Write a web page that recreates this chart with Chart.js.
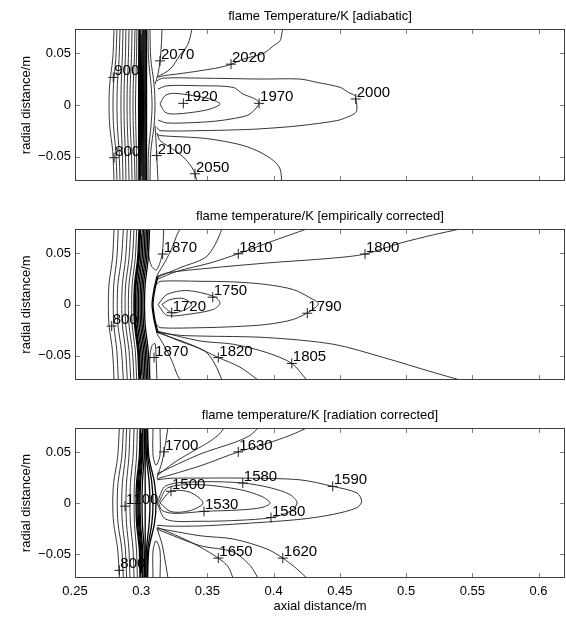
<!DOCTYPE html>
<html>
<head>
<meta charset="utf-8">
<title>flame temperature contours</title>
<script src="https://cdn.jsdelivr.net/npm/chart.js@4/dist/chart.umd.min.js"></script>
<style>
  html, body { margin: 0; padding: 0; background: #fff; }
  #wrap { position: relative; width: 566px; height: 617px; overflow: hidden; }
  canvas { position: absolute; left: 0; }
</style>
</head>
<body>
<div id="wrap">
  <canvas id="p1" width="566" height="200" style="top:0"></canvas>
  <canvas id="p2" width="566" height="200" style="top:200px"></canvas>
  <canvas id="p3" width="566" height="217" style="top:400px"></canvas>
</div>
<script>
// axes
const xTicks = [0.25, 0.3, 0.35, 0.4, 0.45, 0.5, 0.55, 0.6];
const xTickLabels = ['0.25', '0.3', '0.35', '0.4', '0.45', '0.5', '0.55', '0.6'];
const yTicks = [-0.05, 0, 0.05];
const yTickLabels = ['\u22120.05', '0', '0.05'];

const titles = [
  'flame Temperature/K [adiabatic]',
  'flame temperature/K [empirically corrected]',
  'flame temperature/K [radiation corrected]'
];

// --- panel 1: adiabatic ---  each line is a list of [axial, radial] points
const p1Band = [
  [[.2983,.0735],[.2980,0],[.2983,-.0735]],
  [[.2987,.0735],[.2984,0],[.2987,-.0735]],
  [[.2991,.0735],[.2987,0],[.2991,-.0735]],
  [[.2998,.0735],[.2994,0],[.2998,-.0735]],
  [[.3006,.0735],[.3002,0],[.3006,-.0735]],
  [[.3014,.0735],[.3010,0],[.3014,-.0735]],
  [[.3021,.0735],[.3018,0],[.3021,-.0735]],
  [[.3029,.0735],[.3027,0],[.3029,-.0735]],
  [[.3036,.0735],[.3035,0],[.3036,-.0735]],
  [[.3040,.0735],[.3040,0],[.3040,-.0735]]
];
const p1Lines = [
  [[.2795,.0735],[.2785,.045],[.2762,.02],[.2757,0],[.2762,-.02],[.2785,-.045],[.2795,-.0735]],
  [[.2817,.0735],[.2808,.045],[.2791,.02],[.2787,0],[.2791,-.02],[.2808,-.045],[.2817,-.0735]],
  [[.2840,.0735],[.2833,.045],[.2820,.02],[.2817,0],[.2820,-.02],[.2833,-.045],[.2840,-.0735]],
  [[.2863,.0735],[.2857,.045],[.2849,.02],[.2847,0],[.2849,-.02],[.2857,-.045],[.2863,-.0735]],
  [[.2885,.0735],[.2880,.045],[.2872,.02],[.2870,0],[.2872,-.02],[.2880,-.045],[.2885,-.0735]],
  [[.2908,.0735],[.2903,.045],[.2895,.02],[.2893,0],[.2895,-.02],[.2903,-.045],[.2908,-.0735]],
  [[.2931,.0735],[.2926,.045],[.2917,.02],[.2915,0],[.2917,-.02],[.2926,-.045],[.2931,-.0735]],
  [[.2953,.0735],[.2948,.045],[.2940,.02],[.2938,0],[.2940,-.02],[.2948,-.045],[.2953,-.0735]],
  [[.2968,.0735],[.2964,.045],[.2959,.02],[.2957,0],[.2959,-.02],[.2964,-.045],[.2968,-.0735]],
  [[.3051,.0735],[.3055,.045],[.3074,.02],[.3082,0],[.3074,-.02],[.3055,-.045],[.3051,-.0735]],
  [[.3066,.0735],[.3072,.045],[.3097,.02],[.3104,0],[.3097,-.02],[.3072,-.045],[.3066,-.0735]],
  [[.3104,.02],[.3127,.03],[.3142,.0427],[.3152,.058],[.3157,.0735]],
  [[.3119,.027],[.3218,.0347],[.3293,.0482],[.3353,.0588],[.3384,.0735]],
  [[.3104,-.02],[.3112,-.035],[.3117,-.0489],[.3127,-.0735]],
  [[.3119,-.027],[.3142,-.0344],[.3218,-.0408],[.3318,-.0504],[.3381,-.0600],[.3406,-.0665],[.3419,-.0735]],
  [[.3129,.0267],[.3167,.0283],[.3268,.0299],[.3444,.0331],[.3595,.0364],[.3681,.0395],[.3771,.0444],[.3922,.0499],[.3998,.0572],[.4048,.0620],[.4061,.0685],[.4069,.0735]],
  [[.3117,-.028],[.3142,-.0296],[.3444,-.0318],[.3595,-.0344],[.3771,-.0392],[.3897,-.0456],[.3998,-.0537],[.4048,-.0617],[.4061,-.0735]],
  [[.3117,.0234],[.3167,.0260],[.3444,.0260],[.3897,.0251],[.4199,.0251],[.4326,.0219],[.4502,.0171],[.4564,.0122],[.4615,.0090],[.4620,.0058],[.4628,.0010],[.4622,-.0070],[.4552,-.0119],[.4477,-.0151],[.4199,-.0200],[.3897,-.0231],[.3696,-.0241],[.3444,-.0248],[.3142,-.0248],[.3117,-.0215]],
  [[.3127,.0154],[.3195,.0186],[.3444,.0186],[.3693,.0171],[.3769,.0106],[.3860,.0058],[.3890,.0016],[.3822,-.0087],[.3746,-.0119],[.3595,-.0151],[.3444,-.0167],[.3195,-.0174],[.3127,-.0145]],
  [[.3142,.001],[.3180,.009],[.3242,.0113],[.3393,.0090],[.3520,.0058],[.3595,.001],[.3520,-.0039],[.3393,-.0070],[.3242,-.0087],[.3180,-.0070],[.3142,.001]]
];
const p1Labels = [
  [.3142, .0427, '2070'], [.3678, .0395, '2020'], [.2789, .0267, '900'],
  [.3318, .0016, '1920'], [.3890, .0016, '1970'], [.4620, .0058, '2000'],
  [.2795, -.0510, '800'], [.3117, -.0489, '2100'], [.3406, -.0665, '2050']
];

// --- panel 2: empirically corrected ---
const p2Band = [
  [[.2983,.0735],[.2973,.045],[.2950,.02],[.2945,0],[.2950,-.02],[.2973,-.045],[.2983,-.0735]],
  [[.2989,.0735],[.2979,.045],[.2956,.02],[.2951,0],[.2956,-.02],[.2979,-.045],[.2989,-.0735]],
  [[.2995,.0735],[.2985,.045],[.2962,.02],[.2957,0],[.2962,-.02],[.2985,-.045],[.2995,-.0735]],
  [[.3006,.0735],[.2996,.045],[.2973,.02],[.2968,0],[.2973,-.02],[.2996,-.045],[.3006,-.0735]],
  [[.3017,.0735],[.3007,.045],[.2984,.02],[.2979,0],[.2984,-.02],[.3007,-.045],[.3017,-.0735]],
  [[.3029,.0735],[.3019,.045],[.2996,.02],[.2991,0],[.2996,-.02],[.3019,-.045],[.3029,-.0735]],
  [[.3040,.0735],[.3030,.045],[.3007,.02],[.3002,0],[.3007,-.02],[.3030,-.045],[.3040,-.0735]],
  [[.3051,.0735],[.3041,.045],[.3018,.02],[.3013,0],[.3018,-.02],[.3041,-.045],[.3051,-.0735]],
  [[.3063,.0735],[.3053,.045],[.3030,.02],[.3025,0],[.3030,-.02],[.3053,-.045],[.3063,-.0735]],
  [[.3119,.0274],[.3097,.015],[.3082,0],[.3097,-.015],[.3119,-.0274]],
  [[.3127,.0274],[.3104,.015],[.3089,0],[.3104,-.015],[.3127,-.0274]]
];
const p2Lines = [
  [[.2795,.0735],[.2783,.045],[.2757,.02],[.2752,0],[.2757,-.02],[.2783,-.045],[.2795,-.0735]],
  [[.2827,.0735],[.2816,.045],[.2793,.02],[.2789,0],[.2793,-.02],[.2816,-.045],[.2827,-.0735]],
  [[.2865,.0735],[.2851,.045],[.2824,.02],[.2819,0],[.2824,-.02],[.2851,-.045],[.2865,-.0735]],
  [[.2895,.0735],[.2882,.045],[.2858,.02],[.2853,0],[.2858,-.02],[.2882,-.045],[.2895,-.0735]],
  [[.2921,.0735],[.2908,.045],[.2883,.02],[.2878,0],[.2883,-.02],[.2908,-.045],[.2921,-.0735]],
  [[.2946,.0735],[.2933,.045],[.2908,.02],[.2903,0],[.2908,-.02],[.2933,-.045],[.2946,-.0735]],
  [[.2966,.0735],[.2955,.045],[.2932,.02],[.2928,0],[.2932,-.02],[.2955,-.045],[.2966,-.0735]],
  [[.3051,.0735],[.3055,.05],[.3079,.0371],[.3117,.0339],[.3158,.0491],[.3170,.0735]],
  [[.3066,-.0735],[.3066,-.05],[.3082,-.040],[.3104,-.038],[.3112,-.05],[.3119,-.0735]],
  [[.3117,.0261],[.3293,.0358],[.3482,.0455],[.3557,.0581],[.3610,.0735]],
  [[.3117,.0281],[.3180,.0416],[.3233,.0552],[.3270,.0678],[.3293,.0735]],
  [[.3117,-.0261],[.3293,-.0358],[.3482,-.0455],[.3557,-.0581],[.3610,-.0735]],
  [[.3117,-.0281],[.3180,-.0416],[.3233,-.0552],[.3270,-.0678],[.3293,-.0735]],
  [[.3117,.0242],[.3268,.0322],[.3520,.0404],[.3733,.0494],[.3948,.0597],[.4124,.0678],[.4250,.0735]],
  [[.3117,-.0271],[.3369,-.0387],[.3582,-.0516],[.3746,-.0610],[.3882,-.0735]],
  [[.3117,-.0258],[.3444,-.0355],[.3696,-.0387],[.3948,-.0468],[.4137,-.0574],[.4250,-.0735]],
  [[.3117,.0274],[.3193,.0307],[.3393,.0339],[.3948,.0404],[.4451,.0452],[.4690,.0491],[.4955,.0597],[.5206,.0678],[.5408,.0735]],
  [[.3117,-.0271],[.3293,-.0300],[.3444,-.0307],[.3948,-.0322],[.4451,-.0387],[.4829,-.0516],[.5206,-.0661],[.5408,-.0735]],
  [[.3117,.0194],[.3142,.0226],[.3444,.0226],[.3696,.0220],[.3948,.0194],[.4149,.0145],[.4275,.0065],[.4338,.0007],[.4275,-.0065],[.4149,-.0145],[.3948,-.0194],[.3696,-.0216],[.3444,-.0226],[.3142,-.0226],[.3117,-.0194]],
  [[.3127,0],[.3193,.0097],[.3344,.0136],[.3545,.0080],[.3595,.0016],[.3545,-.0048],[.3344,-.0097],[.3193,-.0104],[.3127,0]],
  [[.3155,0],[.3218,.0048],[.3318,.0058],[.3381,0],[.3318,-.0058],[.3230,-.0080],[.3155,0]]
];
const p2Labels = [
  [.3162, .0491, '1870'], [.3733, .0494, '1810'], [.4690, .0491, '1800'],
  [.3540, .0071, '1750'], [.3230, -.0080, '1720'], [.4254, -.0085, '1790'],
  [.2777, -.0210, '800'], [.3097, -.0516, '1870'], [.3582, -.0516, '1820'],
  [.4137, -.0574, '1805']
];

// --- panel 3: radiation corrected ---
const p3Band = [
  [[.2991,.0735],[.2985,.045],[.2965,.02],[.2961,0],[.2965,-.02],[.2985,-.045],[.2991,-.0735]],
  [[.2997,.0735],[.2991,.045],[.2972,.02],[.2968,0],[.2972,-.02],[.2991,-.045],[.2997,-.0735]],
  [[.3002,.0735],[.2997,.045],[.2980,.02],[.2976,0],[.2980,-.02],[.2997,-.045],[.3002,-.0735]],
  [[.3008,.0735],[.3004,.045],[.2988,.02],[.2984,0],[.2988,-.02],[.3004,-.045],[.3008,-.0735]],
  [[.3014,.0735],[.3010,.045],[.2995,.02],[.2991,0],[.2995,-.02],[.3010,-.045],[.3014,-.0735]],
  [[.3025,.0735],[.3022,.045],[.3009,.02],[.3006,0],[.3009,-.02],[.3022,-.045],[.3025,-.0735]],
  [[.3030,.0735],[.3030,.045],[.3030,0],[.3030,-.045],[.3030,-.0735]],
  [[.3036,.0735],[.3040,.045],[.3060,.02],[.3066,0],[.3060,-.02],[.3040,-.045],[.3036,-.0735]],
  [[.3044,.0735],[.3050,.045],[.3080,.02],[.3089,0],[.3080,-.02],[.3050,-.045],[.3044,-.0735]],
  [[.3048,.0735],[.3058,.045],[.3100,.02],[.3112,0],[.3100,-.02],[.3058,-.045],[.3048,-.0735]]
];
const p3Lines = [
  [[.2835,.0735],[.2822,.045],[.2792,.02],[.2785,0],[.2792,-.02],[.2822,-.045],[.2835,-.0735]],
  [[.2865,.0735],[.2853,.045],[.2825,.02],[.2819,0],[.2825,-.02],[.2853,-.045],[.2865,-.0735]],
  [[.2890,.0735],[.2880,.045],[.2858,.02],[.2853,0],[.2858,-.02],[.2880,-.045],[.2890,-.0735]],
  [[.2915,.0735],[.2907,.045],[.2889,.02],[.2885,0],[.2889,-.02],[.2907,-.045],[.2915,-.0735]],
  [[.2946,.0735],[.2938,.045],[.2919,.02],[.2915,0],[.2919,-.02],[.2938,-.045],[.2946,-.0735]],
  [[.2971,.0735],[.2964,.045],[.2949,.02],[.2946,0],[.2949,-.02],[.2964,-.045],[.2971,-.0735]],
  [[.3089,.0735],[.3089,.047],[.3112,.037],[.3142,.047],[.3142,.0735]],
  [[.3089,-.0735],[.3089,-.047],[.3112,-.037],[.3142,-.047],[.3142,-.0735]],
  [[.3119,.0247],[.3157,.0402],[.3172,.0501],[.3187,.0615],[.3202,.0735]],
  [[.3119,-.0247],[.3157,-.0402],[.3172,-.0501],[.3187,-.0615],[.3202,-.0735]],
  [[.3119,.0266],[.3255,.0402],[.3406,.0518],[.3520,.0605],[.3595,.0682],[.3625,.0735]],
  [[.3119,-.0237],[.3293,-.0334],[.3444,-.0431],[.3582,-.0540],[.3656,-.0624],[.3693,-.0735]],
  [[.3119,.0286],[.3444,.0479],[.3708,.0595],[.3822,.0663],[.3882,.0735]],
  [[.3119,-.0257],[.3444,-.0418],[.3693,-.0479],[.3822,-.0612],[.3882,-.0735]],
  [[.3119,.0237],[.3444,.0363],[.3733,.0501],[.3948,.0583],[.4124,.0663],[.4250,.0735]],
  [[.3119,-.0247],[.3444,-.0321],[.3696,-.0353],[.3948,-.0450],[.4069,-.0540],[.4174,-.0644],[.4250,-.0735]],
  [[.3142,0],[.3225,.0115],[.3369,.0105],[.3467,0],[.3369,-.0075],[.3225,-.0085],[.3142,0]],
  [[.3131,0],[.3202,.0150],[.3444,.0179],[.3746,.0131],[.3912,.0063],[.3973,0],[.3912,-.0044],[.3746,-.0068],[.3474,-.0082],[.3255,-.0102],[.3157,-.0073],[.3131,0]],
  [[.3119,0],[.3187,.0169],[.3444,.0208],[.3767,.0196],[.3973,.0150],[.4124,.0082],[.4177,0],[.4124,-.0082],[.3980,-.0143],[.3746,-.0169],[.3444,-.0179],[.3187,-.0160],[.3119,0]],
  [[.3119,.0227],[.3218,.0242],[.3444,.0244],[.3771,.0244],[.4199,.0227],[.4446,.0163],[.4628,.0099],[.4665,.0017],[.4628,-.0046],[.4451,-.0111],[.4199,-.0160],[.3696,-.0208],[.3444,-.0225],[.3218,-.0227],[.3119,-.0218]]
];
const p3Labels = [
  [.3172, .0501, '1700'], [.3733, .0501, '1630'], [.3225, .0115, '1500'],
  [.3767, .0196, '1580'], [.4446, .0163, '1590'], [.3474, -.0082, '1530'],
  [.3980, -.0143, '1580'], [.2878, -.0031, '1100'], [.3582, -.0540, '1650'],
  [.4069, -.0540, '1620'], [.2835, -.0660, '800']
];

const FONT = "'Liberation Sans', Arial, Helvetica, sans-serif";

// frame, inward ticks, title, contour labels
const framePlugin = {
  id: 'frame',
  afterDatasetsDraw(chart, args, opts) {
    const ctx = chart.ctx;
    const xs = chart.scales.x, ys = chart.scales.y;
    ctx.save();
    ctx.fillStyle = '#000';
    ctx.font = '15px ' + FONT;
    ctx.textAlign = 'left';
    ctx.textBaseline = 'alphabetic';
    opts.labels.forEach(l => {
      const px = xs.getPixelForValue(l[0]);
      const py = ys.getPixelForValue(l[1]);
      ctx.fillText(l[2], px + 1, py - 2);
    });
    ctx.restore();
  },
  afterDraw(chart, args, opts) {
    const ctx = chart.ctx;
    const a = chart.chartArea;
    const xs = chart.scales.x, ys = chart.scales.y;
    ctx.save();
    ctx.strokeStyle = '#808080';
    ctx.lineWidth = 1;
    ctx.beginPath();
    xTicks.forEach(v => {
      const px = Math.round(xs.getPixelForValue(v)) + 0.5;
      ctx.moveTo(px, a.bottom); ctx.lineTo(px, a.bottom - 5);
      ctx.moveTo(px, a.top); ctx.lineTo(px, a.top + 5);
    });
    yTicks.forEach(v => {
      const py = Math.round(ys.getPixelForValue(v)) + 0.5;
      ctx.moveTo(a.left, py); ctx.lineTo(a.left + 5, py);
      ctx.moveTo(a.right, py); ctx.lineTo(a.right - 5, py);
    });
    ctx.stroke();
    ctx.strokeStyle = '#404040';
    ctx.strokeRect(a.left + 0.5, a.top + 0.5, a.right - a.left - 1, a.bottom - a.top - 1);
    ctx.fillStyle = '#000';
    ctx.font = '13px ' + FONT;
    ctx.textAlign = 'center';
    ctx.textBaseline = 'middle';
    ctx.fillText(opts.title, (a.left + a.right) / 2, a.top - 13);
    ctx.restore();
  }
};

function lineSet(pts, width, color) {
  return {
    data: pts.map(p => ({ x: p[0], y: p[1] })),
    showLine: true,
    borderColor: color,
    borderWidth: width,
    pointRadius: 0,
    tension: 0.3,
    fill: false
  };
}

function makePanel(id, band, lines, labels, title, showX, padTop, padBottom) {
  const datasets = band.map(l => lineSet(l, 1.3, '#000'))
    .concat(lines.map(l => lineSet(l, 0.9, '#202020')));
  datasets.push({
    data: labels.map(l => ({ x: l[0], y: l[1] })),
    showLine: false,
    pointStyle: 'cross',
    pointRadius: 5,
    borderColor: '#202020',
    borderWidth: 1
  });
  return new Chart(document.getElementById(id), {
    type: 'scatter',
    data: { datasets },
    options: {
      responsive: false,
      animation: false,
      devicePixelRatio: 1,
      layout: { autoPadding: false, padding: { top: padTop, right: 1, bottom: padBottom, left: 0 } },
      plugins: {
        legend: { display: false },
        tooltip: { enabled: false },
        frame: { title: title, labels: labels }
      },
      scales: {
        x: {
          type: 'linear', min: 0.25, max: 0.62, display: showX,
          grid: { display: false, drawTicks: false },
          border: { display: false },
          afterBuildTicks: s => { s.ticks = xTicks.map(v => ({ value: v })); },
          ticks: {
            callback: v => xTickLabels[xTicks.indexOf(v)],
            padding: 6, color: '#000', font: { family: FONT, size: 13 },
            maxRotation: 0, autoSkip: false
          },
          title: {
            display: true, text: 'axial distance/m', color: '#000',
            font: { family: FONT, size: 13 }, padding: { top: 0, bottom: 3 }
          },
          afterFit: s => {
            s.height = showX ? 39 : 0;
            s.paddingLeft = 0; s.paddingRight = 0;
          }
        },
        y: {
          type: 'linear', min: -0.0735, max: 0.0735,
          grid: { display: false, drawTicks: false },
          border: { display: false },
          afterBuildTicks: s => { s.ticks = yTicks.map(v => ({ value: v })); },
          ticks: {
            callback: v => yTickLabels[yTicks.indexOf(v)],
            padding: 4, color: '#000', font: { family: FONT, size: 13 }
          },
          title: {
            display: true, text: 'radial distance/m', color: '#000',
            font: { family: FONT, size: 13 }, padding: { top: 19, bottom: 0 }
          },
          afterFit: s => {
            s.width = 75;
            s.paddingTop = 0; s.paddingBottom = 0;
          }
        }
      }
    },
    plugins: [framePlugin]
  });
}

makePanel('p1', p1Band, p1Lines, p1Labels, titles[0], false, 29, 19);
makePanel('p2', p2Band, p2Lines, p2Labels, titles[1], false, 29, 20);
makePanel('p3', p3Band, p3Lines, p3Labels, titles[2], true, 28, 0);
</script>
</body>
</html>
